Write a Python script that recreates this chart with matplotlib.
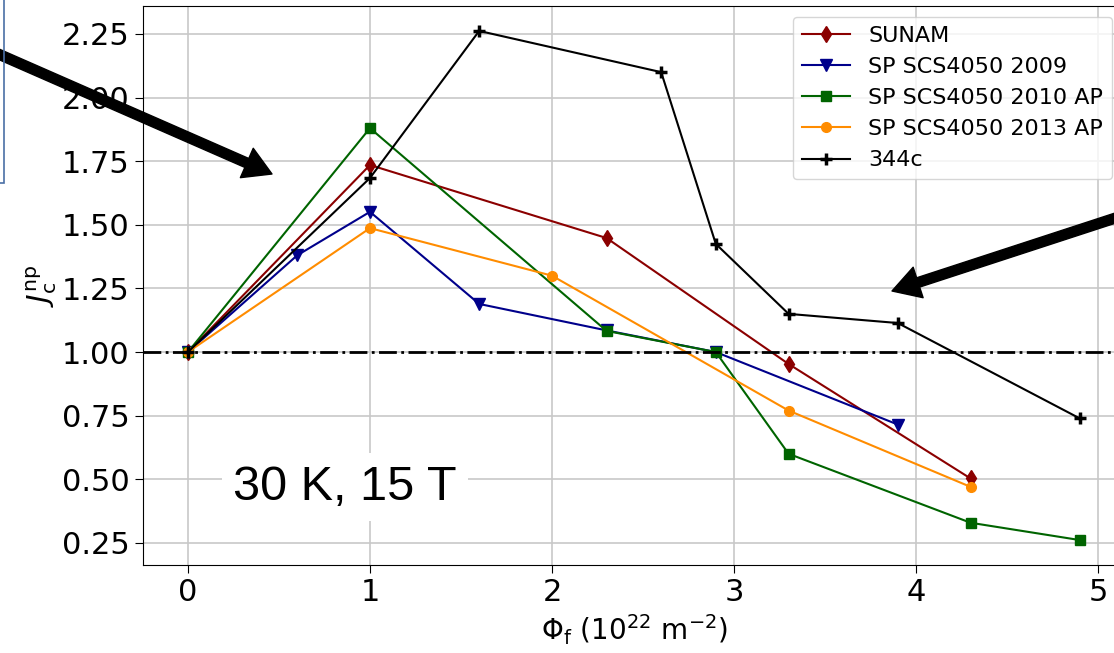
import matplotlib
matplotlib.use('Agg')
import matplotlib.pyplot as plt
from matplotlib.patches import Rectangle

# fluence values and normalised Jc for each conductor
sunam_x = [0, 1, 2.3, 3.3, 4.3]
sunam_y = [1.0, 1.735, 1.448, 0.953, 0.503]

sp2009_x = [0, 0.6, 1, 1.6, 2.3, 2.9, 3.9]
sp2009_y = [1.0, 1.38, 1.551, 1.189, 1.085, 1.0, 0.715]

sp2010_x = [0, 1, 2.3, 2.9, 3.3, 4.3, 4.9]
sp2010_y = [1.0, 1.88, 1.083, 1.0, 0.60, 0.329, 0.261]

sp2013_x = [0, 1, 2, 3.3, 4.3]
sp2013_y = [1.0, 1.487, 1.30, 0.77, 0.47]

c344_x = [0, 1, 1.6, 2.6, 2.9, 3.3, 3.9, 4.9]
c344_y = [1.0, 1.684, 2.262, 2.10, 1.425, 1.15, 1.114, 0.739]

fig = plt.figure(figsize=(11.14, 6.53), dpi=100)
ax = fig.add_axes([143/1114, 88/653, 1.01 - 143/1114, (565-6)/653])

ax.plot(sunam_x, sunam_y, label='SUNAM', color='darkred', marker='d', markersize=8)
ax.plot(sp2009_x, sp2009_y, label='SP SCS4050 2009', color='darkblue', marker='v', markersize=8)
ax.plot(sp2010_x, sp2010_y, label='SP SCS4050 2010 AP', color='darkgreen', marker='s', markersize=7)
ax.plot(sp2013_x, sp2013_y, label='SP SCS4050 2013 AP', color='darkorange', marker='o', markersize=7)
ax.plot(c344_x, c344_y, label='344c', color='black', marker='+', markersize=9, markeredgewidth=2.5)

ax.axhline(1.0, color='black', linestyle='-.', linewidth=2)

ax.set_xlim(-0.247, 5.149)
ax.set_ylim(0.163, 2.36)
ax.set_xticks([0, 1, 2, 3, 4, 5])
ax.set_yticks([0.25, 0.5, 0.75, 1.0, 1.25, 1.5, 1.75, 2.0, 2.25])
ax.tick_params(labelsize=22, length=6)
ax.grid(color='#c8c8c8', linewidth=1.2)
ax.set_axisbelow(True)

ax.set_xlabel(r'$\Phi_\mathrm{f}\ (10^{22}\ \mathrm{m}^{-2})$', fontsize=20, labelpad=4)
ax.set_ylabel(r'$J_\mathrm{c}^\mathrm{np}$', fontsize=21, labelpad=2)

ax.legend(loc='upper right', fontsize=16, bbox_to_anchor=(1112/1114, 1 - 17/653),
          bbox_transform=fig.transFigure, borderaxespad=0, handlelength=2.2)

ax.text(0.863, 0.469, '30 K, 15 T', fontsize=35, family='Liberation Sans',
        ha='center', va='center',
        bbox=dict(facecolor='white', edgecolor='none', pad=8))

# arrows from the slide
arrow_style = 'simple,tail_width=0.32,head_width=1.05,head_length=0.9'
ax.annotate('', xy=(272, 653 - 174), xycoords='figure pixels',
            xytext=(-20, 653 - 46), textcoords='figure pixels',
            arrowprops=dict(arrowstyle=arrow_style, color='black', mutation_scale=22, shrinkA=0, shrinkB=0),
            annotation_clip=False)
ax.annotate('', xy=(892, 653 - 291), xycoords='figure pixels',
            xytext=(1140, 653 - 210), textcoords='figure pixels',
            arrowprops=dict(arrowstyle=arrow_style, color='black', mutation_scale=22, shrinkA=0, shrinkB=0),
            annotation_clip=False)

# edge of the blue box on the left of the slide
fig.patches.append(Rectangle((-60, 653 - 183), 64, 260, transform=None,
                             fill=False, edgecolor='#4a6fa5', linewidth=1.2))

plt.savefig('out.png', dpi=100)
